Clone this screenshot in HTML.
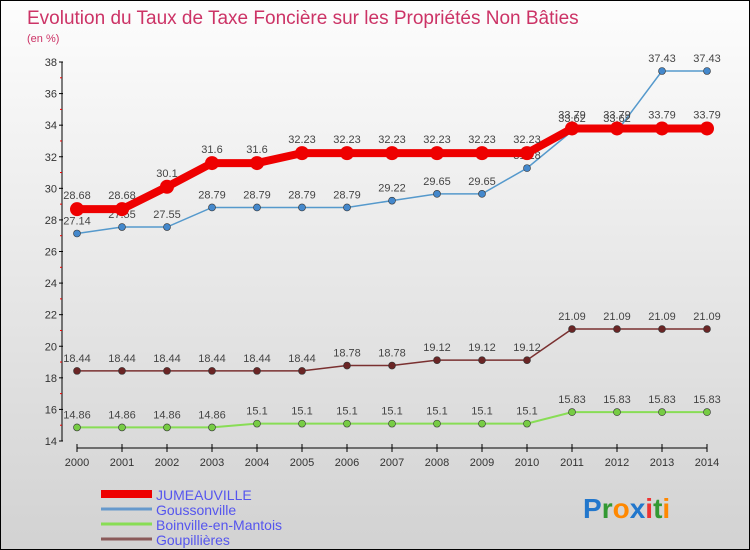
<!DOCTYPE html>
<html><head><meta charset="utf-8"><style>
body{margin:0}
#c{width:750px;height:550px;position:relative;overflow:hidden;font-family:"Liberation Sans",sans-serif;box-sizing:border-box;border:1px solid #000;background:linear-gradient(#fdfdfd,#d2d2d2)}
svg{position:absolute;left:0;top:0}
</style></head><body>
<div id="c">
<svg id="s" width="750" height="550">
<text x="26" y="23" font-size="19" fill="#cc3366">Evolution du Taux de Taxe Foncière sur les Propriétés Non Bâties</text>
<text x="26" y="41" font-size="11" fill="#cc3366">(en %)</text>
</svg>
</div>
<script>
const years=[2000,2001,2002,2003,2004,2005,2006,2007,2008,2009,2010,2011,2012,2013,2014];
const yTicks=[14,16,18,20,22,24,26,28,30,32,34,36,38];
const jumeauville=[28.68,28.68,30.1,31.6,31.6,32.23,32.23,32.23,32.23,32.23,32.23,33.79,33.79,33.79,33.79];
const goussonville=[27.14,27.55,27.55,28.79,28.79,28.79,28.79,29.22,29.65,29.65,31.28,33.62,33.62,37.43,37.43];
const boinville=[14.86,14.86,14.86,14.86,15.1,15.1,15.1,15.1,15.1,15.1,15.1,15.83,15.83,15.83,15.83];
const goupillieres=[18.44,18.44,18.44,18.44,18.44,18.44,18.78,18.78,19.12,19.12,19.12,21.09,21.09,21.09,21.09];
const names=["JUMEAUVILLE","Goussonville","Boinville-en-Mantois","Goupillières"];
const NS="http://www.w3.org/2000/svg",s=document.getElementById('s');
const X=i=>76+i*45, Y=v=>440-(v-14)*(379/24);
function mk(t,a,p){const e=document.createElementNS(NS,t);for(const k in a)e.setAttribute(k,a[k]);(p||s).appendChild(e);return e;}
// axes
let ya=mk('line',{x1:61,y1:61,x2:61,y2:440,stroke:'#000','stroke-width':1});


let xa=mk('line',{x1:76,y1:447,x2:706,y2:447,stroke:'#000','stroke-width':1});


yTicks.forEach(v=>{
 mk('line',{x1:58,y1:Y(v),x2:62,y2:Y(v),stroke:'#000'});
 if(v<38)mk('line',{x1:59,y1:Y(v+1),x2:61,y2:Y(v+1),stroke:'#e00'});
 let t=mk('text',{x:56,y:Y(v)+4,'font-size':11,fill:'#333','text-anchor':'end'});t.textContent=v;
 
 
});
years.forEach((y,i)=>{
 mk('line',{x1:X(i),y1:443,x2:X(i),y2:451,stroke:'#000'});
 let t=mk('text',{x:X(i),y:465,'font-size':11,fill:'#333','text-anchor':'middle'});t.textContent=y;
 
 
});
const series=[
 {d:boinville,c:'#88dd55',w:2,r:3.5,f:'#77cc44',off:-9},
 {d:goupillieres,c:'#7a3030',w:1.5,r:3.5,f:'#6a2525',off:-9},
 {d:goussonville,c:'#5599cc',w:1.5,r:3.5,f:'#4488cc',off:-9},
 {d:jumeauville,c:'#ee0000',w:8,r:7,f:'#ee0000',off:-10}
];
const snames=["boinville","goupillieres","goussonville","jumeauville"];
series.forEach((se,k)=>{
 const g=mk('g',{});
 
 
 mk('polyline',{points:se.d.map((v,i)=>X(i)+','+Y(v)).join(' '),fill:'none',stroke:se.c,'stroke-width':se.w},g);
 se.d.forEach((v,i)=>{
  let p=mk('circle',{cx:X(i),cy:Y(v),r:se.r,fill:se.f,stroke:'#333','stroke-width':se.r>5?0:0.6},g);
  
  
  let t=mk('text',{x:X(i),y:Y(v)+se.off-(se.r>5?0:0),'font-size':11,fill:'#444','text-anchor':'middle'},g);t.textContent=v;
  
  
 });
});
// legend
const lc=['#ee0000','#6699cc','#88dd55','#8a5a5a'],lw=[8,3,3,3];
names.forEach((n,i)=>{
 const g=mk('g',{});
 
 
 const y=493+i*15;
 mk('line',{x1:100,y1:y,x2:151,y2:y,stroke:lc[i],'stroke-width':lw[i]},g);
 let t=mk('text',{x:155,y:y+6,'font-size':14,fill:'#5555ee'},g);t.textContent=n;
});
const lg=mk('text',{x:582,y:517,'font-size':28,'font-weight':'bold'});


[['P','#2277cc'],['r','#339933'],['o','#ff8800'],['x','#2277cc'],['i','#ee3333'],['t','#339933'],['i','#ff8800']].forEach(([c,f])=>{let ts=mk('tspan',{fill:f},lg);ts.textContent=c;});
</script>
</body></html>
